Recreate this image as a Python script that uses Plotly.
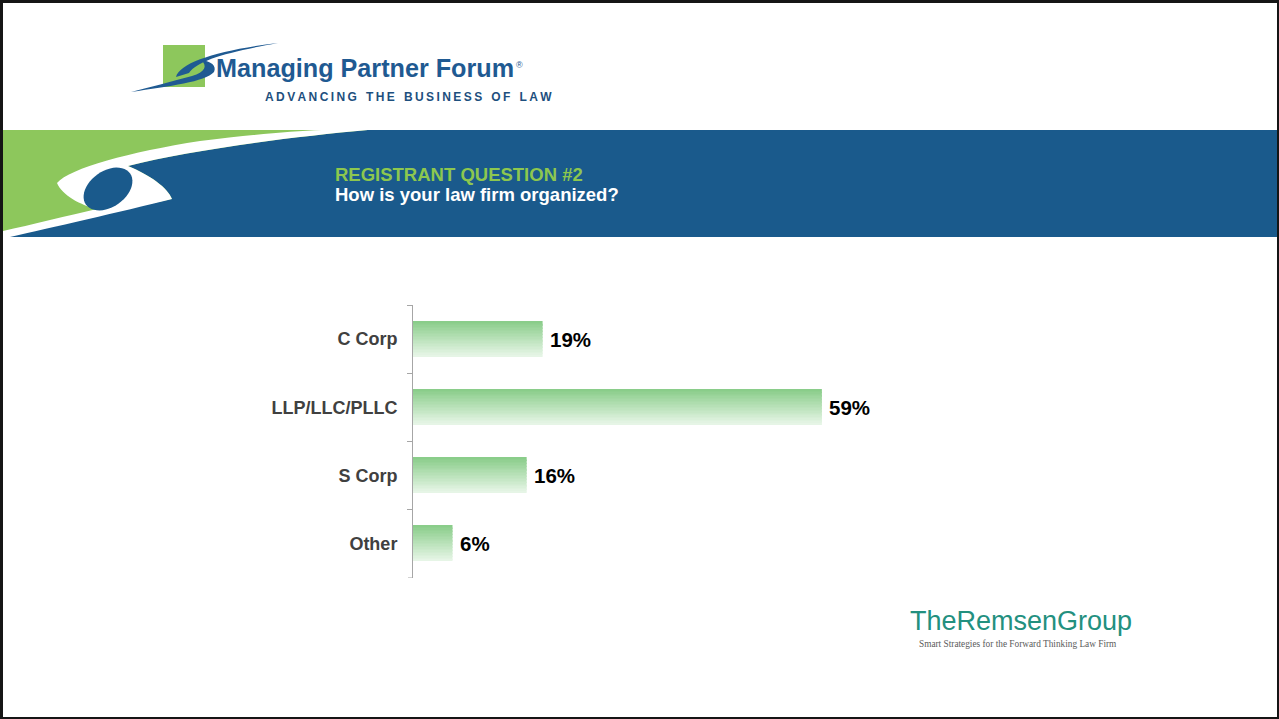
import re
import math
import plotly.graph_objects as go

W, H = 1279, 719

# ---------------- data ----------------
categories = ["C Corp", "LLP/LLC/PLLC", "S Corp", "Other"]
values = [18.7, 59.0, 16.4, 5.7]
value_labels = [f"{round(v)}%" for v in values]
kicker = "REGISTRANT QUESTION #2"
question = "How is your law firm organized?"
brand_name = "Managing Partner Forum"
brand_tag = "ADVANCING THE BUSINESS OF LAW"
remsen_name = "TheRemsenGroup"
remsen_tag = "Smart Strategies for the Forward Thinking Law Firm"

FONT = "Liberation Sans, Arial, sans-serif"
BLUE = "#1a5a8c"
GREEN = "#8dc75c"
AXIS_GRAY = "#a6a6a6"


def X(px):
    return px / W


def Y(py):
    return 1 - py / H


def P(s):
    def rep(m):
        return f"{X(float(m.group(1))):.5f},{Y(float(m.group(2))):.5f}"
    return re.sub(r"(-?\d+\.?\d*),(-?\d+\.?\d*)", rep, s)


def rect(x0, y0, x1, y1, color):
    return dict(type="rect", xref="paper", yref="paper", x0=X(x0), x1=X(x1),
                y0=Y(y1), y1=Y(y0), fillcolor=color, line=dict(width=0), layer="above")


def pathshape(s, color):
    return dict(type="path", xref="paper", yref="paper", path=P(s),
                fillcolor=color, line=dict(width=0), layer="above")


def ellipse_path(cx, cy, a, b, ang_deg, n=48):
    t = math.radians(ang_deg)
    pts = []
    for i in range(n):
        u = 2 * math.pi * i / n
        ex, ey = a * math.cos(u), b * math.sin(u)
        x = cx + ex * math.cos(t) - ey * math.sin(t)
        y = cy + ex * math.sin(t) + ey * math.cos(t)
        pts.append(f"{x:.2f},{y:.2f}")
    return "M " + " L ".join(pts) + " Z"


fig = go.Figure()

# gradient bars built from slices
N = 24
bw = 0.514
top = (138, 205, 138)
bot = (230, 245, 230)
for k in range(N):
    t = k / (N - 1)
    c = tuple(round(top[i] + (bot[i] - top[i]) * t) for i in range(3))
    fig.add_trace(go.Bar(
        x=values, y=categories, orientation="h",
        width=bw / N * 1.1, offset=-bw / 2 + k * bw / N,
        marker=dict(color=f"rgb{c}", line=dict(width=0)),
        hoverinfo="skip", showlegend=False,
    ))

shapes = []
# banner
shapes.append(rect(3, 130, 1279, 237, BLUE))
shapes.append(pathshape(
    "M 3,130 L 368,130 C 290,137 190,150 128,166 C 150,175 168,188 172,199 L 3,235 Z", GREEN))
shapes.append(pathshape(
    "M 322,130 L 368,130 C 290,137 190,150 128,166 C 150,175 168,188 172,199 "
    "C 120,212 50,228 10,237 L 3,237 L 3,231 C 30,225 70,215 97,209 "
    "C 80,205 62,195 57,183 C 70,168 130,152 200,141 C 250,135 290,131 322,130 Z",
    "#ffffff"))
shapes.append(pathshape(ellipse_path(108, 189, 27, 18, -35), BLUE))

# MPF logo
shapes.append(rect(163, 45, 205, 87, GREEN))
LOGO_BLUE = "#1f5a92"
shapes.append(pathshape(
    "M 176,77 C 180,62 220,50 278,43 C 228,52 198,60 189,73 Z", LOGO_BLUE))
shapes.append(pathshape(
    "M 131,92 C 170,86 205,82 214,72 C 217,66 211,61 201,60 C 208,66 205,72 192,76 "
    "C 170,82 150,87 131,92 Z", LOGO_BLUE))

# outer end ticks of the category axis (at category boundaries)
for yb in (-0.5, len(categories) - 0.5):
    shapes.append(dict(type="line", xref="paper", yref="y", x0=X(408), x1=X(413),
                       y0=yb, y1=yb, line=dict(color=AXIS_GRAY, width=1)))

# frame
FR = "#151515"
shapes += [rect(0, 0, 1279, 3, FR), rect(0, 0, 3, 719, FR),
           rect(1277, 0, 1279, 719, FR), rect(0, 717, 1279, 719, FR)]

tag_words = brand_tag.split(" ")
tag_text = "\u2009 \u2009\u200a".join("\u2009".join(w) for w in tag_words)

annotations = [
    dict(x=X(333), y=Y(174), text=f"<b>{kicker}</b>", xanchor="left", yanchor="middle",
         font=dict(family=FONT, size=18.5, color="#8dc74f")),
    dict(x=X(333), y=Y(194), text=f"<b>{question}</b>", xanchor="left", yanchor="middle",
         font=dict(family=FONT, size=18.5, color="#ffffff")),
    dict(x=X(214), y=Y(68), text=f"<b>{brand_name}</b>", xanchor="left", yanchor="middle",
         font=dict(family=FONT, size=25.2, color=LOGO_BLUE)),
    dict(x=X(514), y=Y(65), text="®", xanchor="left", yanchor="middle",
         font=dict(family=FONT, size=9, color=LOGO_BLUE)),
    dict(x=X(263), y=Y(97), text="<b>" + tag_text + "</b>",
         xanchor="left", yanchor="middle",
         font=dict(family=FONT, size=12, color="#1d4f7e")),
    dict(x=X(908), y=Y(621), text=remsen_name, xanchor="left", yanchor="middle",
         font=dict(family=FONT, size=27, color="#23907f")),
    dict(x=X(917), y=Y(644), text=remsen_tag, xanchor="left", yanchor="middle",
         font=dict(family="Liberation Serif, serif", size=9.3, color="#5a5a5a")),
]
for a in annotations:
    a.update(xref="paper", yref="paper", showarrow=False)

# value labels next to bar ends (data coordinates)
for cat, v, lab in zip(categories, values, value_labels):
    annotations.append(dict(
        x=v, y=cat, xref="x", yref="y", text=f"<b>{lab}</b>", showarrow=False,
        xanchor="left", yanchor="middle", xshift=5,
        font=dict(family=FONT, size=20.5, color="#000000"),
    ))

px_per_unit = 6.93
fig.update_layout(
    width=W, height=H, margin=dict(l=0, r=0, t=0, b=0),
    paper_bgcolor="#ffffff", plot_bgcolor="rgba(0,0,0,0)",
    barmode="overlay", showlegend=False,
    shapes=shapes, annotations=annotations,
    xaxis=dict(domain=[X(413), X(1200)], range=[0, (1200 - 413) / px_per_unit],
               visible=False, fixedrange=True),
    yaxis=dict(domain=[Y(577.5), Y(305)], type="category",
               categoryorder="array", categoryarray=categories,
               range=[3.5, -0.5], showline=True, linecolor=AXIS_GRAY, linewidth=1,
               ticks="outside", ticklen=5, tickcolor=AXIS_GRAY, tickson="boundaries",
               showgrid=False, zeroline=False, ticklabelstandoff=11,
               tickfont=dict(family=FONT, size=18, color="#404040", weight="bold"),
               fixedrange=True),
)

fig.write_html("out.html", config={"displayModeBar": False},
               post_script="document.body.style.margin='0';")
